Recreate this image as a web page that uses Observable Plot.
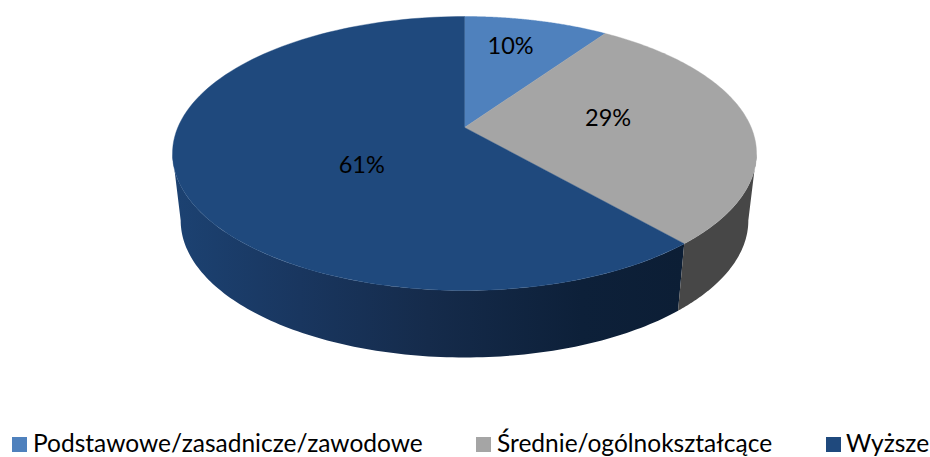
<!DOCTYPE html>
<html>
<head>
<meta charset="utf-8">
<script src="https://cdn.jsdelivr.net/npm/d3@7"></script>
<script src="https://cdn.jsdelivr.net/npm/@observablehq/plot@0.6"></script>
<style>
html,body{margin:0;padding:0;background:#fff;}
#chart{width:930px;height:457px;overflow:hidden;font-family:Lato,sans-serif;}
svg{display:block;}
#legend{position:relative;height:32px;font-size:24.5px;color:#000;}
#legend .sw{position:absolute;top:12px;width:15px;height:15px;}
#legend .tx{position:absolute;top:2px;line-height:32px;white-space:nowrap;}
</style>
</head>
<body>
<div id="chart"></div>
<script>
const categories = ["Podstawowe/zasadnicze/zawodowe", "Średnie/ogólnokształcące", "Wyższe"];
const shares = [9.6, 29, 61.4];
const labels = ["10%", "29%", "61%"];
const topColors = ["#4f81bd", "#a5a5a5", "#1f497d"];
const wallColors = ["#4f81bd", "#474747", "url(#wallBlue)"];
const labelNudge = [[0, -13], [-27, -5], [65, 9]];
const legendSwatchX = [12, 476, 826];
const legendTextX = [33, 497, 846];

const k = 0.19;              // perspective: where the pie's centre falls on the top ellipse
const rim = {cy: -0.489, rx: 0.972, ry: 1.0}; // lower rim in units of the top ellipse
const edgeAngle = Math.acos(-k) * 180 / Math.PI; // silhouette of the disc

function project(r, deg) {
  const a = deg * Math.PI / 180, X = r * Math.sin(a), Y = r * Math.cos(a), d = 1 + k * Y;
  return {x: X * Math.sqrt(1 - k * k) / d, y: (Y + k) / d};
}
const lower = p => ({x: p.x * rim.rx, y: rim.cy + p.y * rim.ry});

let acc = 0;
const slices = shares.map((v, i) => {
  const a0 = acc / 100 * 360; acc += v; const a1 = acc / 100 * 360;
  return {i, a0, a1, mid: (a0 + a1) / 2};
});
const arcPts = (a0, a1) => d3.range(0, 121).map(j => project(1, a0 + (a1 - a0) * j / 120));
const topFace = s => [project(0, 0), ...arcPts(s.a0, s.a1), project(0, 0)];
const wallFace = s => {
  const a0 = Math.max(s.a0, edgeAngle), a1 = Math.min(s.a1, 360 - edgeAngle);
  if (a1 <= a0) return null;
  const up = arcPts(a0, a1);
  return [...up, ...up.slice().reverse().map(lower)];
};

const marks = [
  () => {
    const ns = "http://www.w3.org/2000/svg";
    const defs = document.createElementNS(ns, "defs");
    const g = document.createElementNS(ns, "linearGradient");
    g.setAttribute("id", "wallBlue");
    [[0, "#1c4272"], [0.25, "#19365f"], [0.5, "#152b4b"], [0.8, "#0d2039"], [1, "#0c1e35"]].forEach(([o, c]) => {
      const st = document.createElementNS(ns, "stop");
      st.setAttribute("offset", o); st.setAttribute("stop-color", c);
      g.appendChild(st);
    });
    defs.appendChild(g);
    return defs;
  }
];
slices.slice().reverse().forEach(s => {
  const w = wallFace(s);
  if (w) marks.push(Plot.line(w, {x: "x", y: "y", fill: wallColors[s.i], stroke: "none"}));
});
slices.forEach(s => {
  marks.push(Plot.line(topFace(s), {x: "x", y: "y", fill: topColors[s.i], stroke: topColors[s.i], strokeWidth: 0.4}));
});
slices.forEach(s => {
  const p = project(0.6, s.mid);
  marks.push(Plot.text([{...p, t: labels[s.i]}], {
    x: "x", y: "y", text: "t", dx: labelNudge[s.i][0], dy: labelNudge[s.i][1],
    fill: "#000", fontSize: 23.5, fontFamily: "Lato, sans-serif", textAnchor: "middle", lineAnchor: "middle"
  }));
});

const chart = Plot.plot({
  width: 930, height: 425,
  margin: 0,
  x: {domain: [-1, 1], range: [172, 756], axis: null},
  y: {domain: [-1, 1], range: [290, 16], axis: null},
  marks
});
const root = document.getElementById("chart");
root.appendChild(chart);
const lg = document.createElement("div");
lg.id = "legend";
categories.forEach((c, i) => {
  const sw = document.createElement("div");
  sw.className = "sw"; sw.style.left = legendSwatchX[i] + "px"; sw.style.background = topColors[i];
  const tx = document.createElement("div");
  tx.className = "tx"; tx.style.left = legendTextX[i] + "px"; tx.textContent = c;
  lg.append(sw, tx);
});
root.appendChild(lg);
</script>
</body>
</html>
